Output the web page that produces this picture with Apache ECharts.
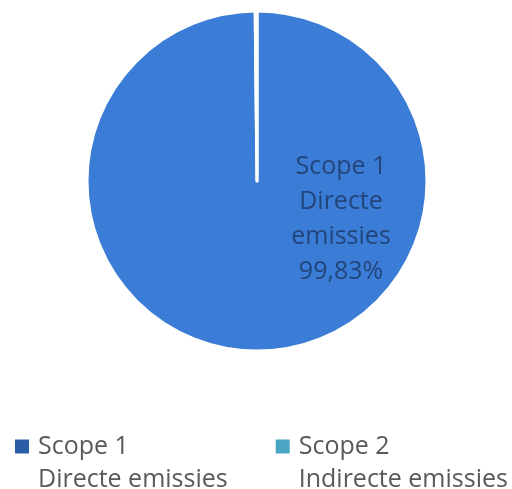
<!DOCTYPE html>
<html>
<head>
<meta charset="utf-8">
<script src="https://cdn.jsdelivr.net/npm/echarts@6/dist/echarts.min.js"></script>
<style>
html,body{margin:0;padding:0;background:#fff;}
#c{width:512px;height:489px;}
</style>
</head>
<body>
<div id="c"></div>
<script>
var categories = ['Scope 1', 'Scope 2'];
var subtitles = ['Directe emissies', 'Indirecte emissies'];
var values = [99.83, 0.17];
var sliceColors = ['#3b7dd6', '#4bacc6'];
var legendColors = ['#2b5ca8', '#4aa5c2'];

var chart = echarts.init(document.getElementById('c'));
var data = categories.map(function (c, i) {
  return {
    name: c,
    value: values[i],
    itemStyle: { color: sliceColors[i] },
    label: { show: i === 0 }
  };
});

chart.setOption({
  animation: false,
  backgroundColor: '#ffffff',
  legend: {
    left: 8,
    top: 392,
    width: 600,
    itemGap: 46,
    itemWidth: 16,
    itemHeight: 16,
    icon: 'rect',
    data: categories.map(function (c, i) {
      return { name: c, itemStyle: { color: legendColors[i] } };
    }),
    formatter: function (name) {
      var i = categories.indexOf(name);
      return '\n' + name + '\n' + subtitles[i];
    },
    textStyle: {
      fontFamily: 'Open Sans',
      fontSize: 25,
      lineHeight: 33,
      color: '#595959',
      padding: [0, 0, 0, 3]
    }
  },
  series: [{
    type: 'pie',
    center: [257, 181],
    radius: 170,
    startAngle: 90,
    clockwise: true,
    data: data,
    itemStyle: { borderColor: '#ffffff', borderWidth: 3 },
    label: {
      show: true,
      position: 'inside',
      fontFamily: 'Open Sans',
      fontSize: 25,
      lineHeight: 35,
      color: '#22457b',
      align: 'center',
      formatter: function (p) {
        var i = categories.indexOf(p.name);
        return p.name + '\n' + subtitles[i].replace(' ', '\n') + '\n' +
          p.percent.toFixed(2).replace('.', ',') + '%';
      }
    },
    labelLine: { show: false },
    labelLayout: function () {
      return { x: 341, y: 219, align: 'center', verticalAlign: 'middle' };
    }
  }]
});
</script>
</body>
</html>
